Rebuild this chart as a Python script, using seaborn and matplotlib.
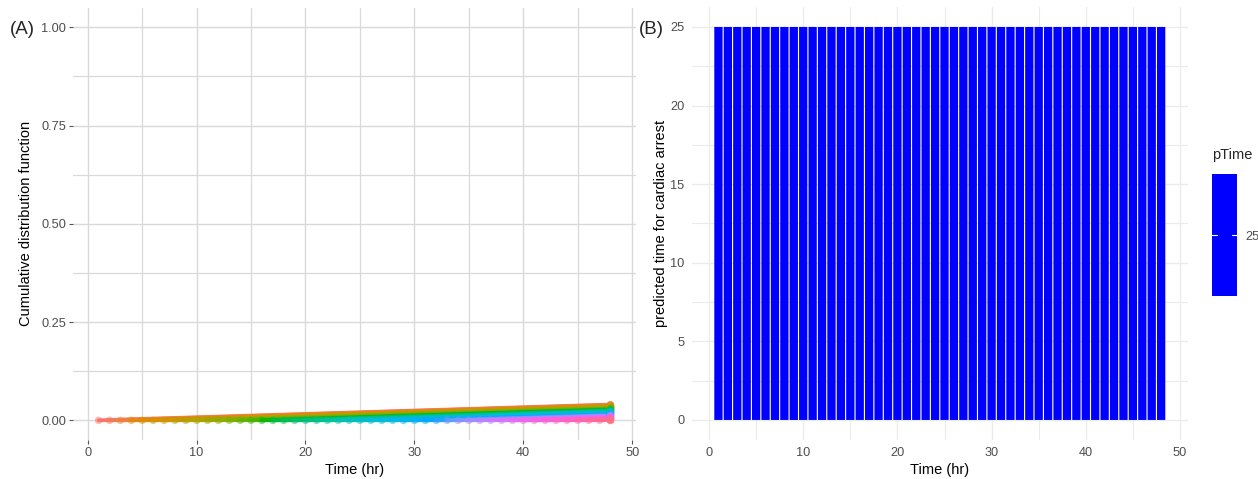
import numpy as np
import pandas as pd
import matplotlib
matplotlib.use("Agg")
import matplotlib.pyplot as plt
import seaborn as sns
from seaborn.external import husl
from matplotlib.colors import ListedColormap, Normalize
from matplotlib.cm import ScalarMappable

# ---------------- data ----------------
start_hours = list(range(1, 49))
end_hour = 48
cdf_at_end = [0.0400, 0.0391, 0.0383, 0.0374, 0.0366, 0.0357, 0.0349, 0.0340,
              0.0332, 0.0323, 0.0315, 0.0306, 0.0298, 0.0289, 0.0281, 0.0272,
              0.0264, 0.0255, 0.0247, 0.0238, 0.0230, 0.0221, 0.0213, 0.0204,
              0.0196, 0.0187, 0.0179, 0.0170, 0.0162, 0.0153, 0.0145, 0.0136,
              0.0128, 0.0119, 0.0111, 0.0102, 0.0094, 0.0085, 0.0077, 0.0068,
              0.0060, 0.0051, 0.0043, 0.0034, 0.0026, 0.0017, 0.0009, 0.0000]
bar_hours = list(range(1, 49))
pred_time = [25] * 48

# ---------------- style ----------------
sns.set_theme(style="whitegrid")
plt.rcParams['font.family'] = ['Liberation Sans', 'DejaVu Sans']

W, H = 1258, 479
fig = plt.figure(figsize=(W / 100, H / 100), dpi=100)

def fx(px):
    return px / W

def fy(py):
    return 1 - py / H

# ggplot-like hue palette
n = len(start_hours)
hues = np.linspace(15, 375, n + 1)[:-1] % 360
cols = [tuple(np.clip(husl.lch_to_rgb(65, 100, h), 0, 1)) for h in hues]
pal = {s: c for s, c in zip(start_hours, cols)}

rows = []
for s, e in zip(start_hours, cdf_at_end):
    rows.append({"start": s, "time": s, "cdf": 0.0})
    rows.append({"start": s, "time": end_hour, "cdf": e})
df = pd.DataFrame(rows)

# ---------------- panel A ----------------
axA = fig.add_axes([fx(73), fy(440), fx(636 - 73), (440 - 7.6) / H])
sns.lineplot(data=df, x="time", y="cdf", hue="start", palette=pal,
             legend=False, linewidth=2.8, ax=axA, estimator=None,
             units="start")
sns.scatterplot(data=df, x="time", y="cdf", hue="start", palette=pal,
                legend=False, s=30, alpha=0.5, edgecolor="none", ax=axA,
                zorder=3)
axA.set_xlim(-1.35, 50.35)
axA.set_ylim(-0.05, 1.05)
axA.set_xticks([0, 10, 20, 30, 40, 50])
axA.set_yticks([0, 0.25, 0.5, 0.75, 1.0])
axA.set_yticklabels(["0.00", "0.25", "0.50", "0.75", "1.00"])
axA.set_xticks([5, 15, 25, 35, 45], minor=True)
axA.set_yticks([0.125, 0.375, 0.625, 0.875], minor=True)
axA.grid(True, which="major", color="#D9D9D9", linewidth=1.0)
axA.grid(True, which="minor", color="#D9D9D9", linewidth=0.9)
axA.set_facecolor("white")
for sp in axA.spines.values():
    sp.set_visible(False)
axA.tick_params(axis="both", which="major", length=3, width=0.8,
                color="#555555", labelsize=9.2, labelcolor="#4D4D4D", pad=2,
                bottom=True, left=True)
axA.tick_params(axis="both", which="minor", length=0)
axA.set_xlabel("Time (hr)", fontsize=10.5, color="black", labelpad=3)
axA.set_ylabel("Cumulative distribution function", fontsize=10.5,
               color="black", labelpad=6)
fig.text(fx(10), fy(30), "(A)", fontsize=13.5, va="center", ha="left")

# ---------------- panel B ----------------
axB = fig.add_axes([fx(691.6), fy(439.6), fx(1188 - 691.6), (439.6 - 7.3) / H])
dfB = pd.DataFrame({"hour": bar_hours, "pTime": pred_time})
sns.barplot(data=dfB, x="hour", y="pTime", native_scale=True, width=0.88,
            color="#0000FF", saturation=1, edgecolor="none", ax=axB,
            errorbar=None, snap=False, antialiased=True)
axB.set_xlim(-1.85, 50.85)
axB.set_ylim(-1.25, 26.25)
axB.set_xticks([0, 10, 20, 30, 40, 50])
axB.set_yticks([0, 5, 10, 15, 20, 25])
axB.set_xticks([5, 15, 25, 35, 45], minor=True)
axB.set_yticks([2.5, 7.5, 12.5, 17.5, 22.5], minor=True)
axB.grid(True, which="major", color="#EBEBEB", linewidth=1.0)
axB.grid(True, which="minor", color="#EBEBEB", linewidth=0.8)
axB.set_axisbelow(True)
axB.set_facecolor("white")
for sp in axB.spines.values():
    sp.set_visible(False)
axB.tick_params(axis="both", which="both", length=0, labelsize=9.2,
                labelcolor="#4D4D4D", pad=5)
axB.set_xlabel("Time (hr)", fontsize=10.5, color="black", labelpad=3)
axB.set_ylabel("predicted time for cardiac arrest", fontsize=10.5,
               color="black", labelpad=2)
fig.text(fx(639), fy(30), "(B)", fontsize=13.5, va="center", ha="left")

# ---------------- colourbar legend ----------------
cax = fig.add_axes([fx(1212), fy(296), fx(25), 122 / H])
sm = ScalarMappable(norm=Normalize(24, 26), cmap=ListedColormap(["#0000FF"]))
cb = fig.colorbar(sm, cax=cax, ticks=[25])
cb.outline.set_visible(False)
cax.tick_params(length=0, labelsize=9.2, labelcolor="#4D4D4D", pad=6)
for side_x in ([0, 0.2], [0.8, 1.0]):
    cax.plot(side_x, [25, 25], color="white", linewidth=0.8)
cax.set_xlim(0, 1)
fig.text(fx(1212), fy(155), "pTime", fontsize=10.5, va="center", ha="left")

fig.savefig("out.png", dpi=100, facecolor="white")
